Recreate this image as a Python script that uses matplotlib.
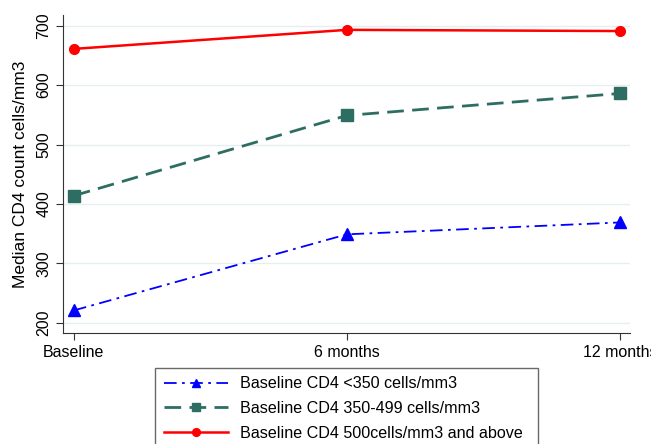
import matplotlib.pyplot as plt

plt.rcParams['font.family'] = ['Liberation Sans', 'DejaVu Sans']

timepoints = ['Baseline', '6 months', '12 months']
low_cd4 = [221, 349, 369]
mid_cd4 = [414, 549, 586]
high_cd4 = [661, 693, 691]
labels = ['Baseline CD4 <350 cells/mm3',
          'Baseline CD4 350-499 cells/mm3',
          'Baseline CD4 500cells/mm3 and above']
yticks = [200, 300, 400, 500, 600, 700]

fig = plt.figure(figsize=(6.51, 4.44), dpi=100)
ax = fig.add_axes([63/651, 1-333/444, (630-63)/651, (333-15)/444])

x = range(len(timepoints))
ax.plot(x, low_cd4, color='#0000ff', linestyle=(0, (7, 3, 1.5, 3)), lw=1.3,
        marker='^', markersize=8, label=labels[0])
ax.plot(x, mid_cd4, color='#2e6e62', linestyle=(0, (6, 3)), lw=2,
        marker='s', markersize=8, label=labels[1])
ax.plot(x, high_cd4, color='#ff0000', linestyle='-', lw=1.8,
        marker='o', markersize=7, label=labels[2])

ax.set_xlim(-0.04, 2.037)
ax.set_ylim(183, 718)
ax.set_yticks(yticks)
ax.set_yticklabels([str(v) for v in yticks], rotation=90, va='center')
ax.set_xticks(list(x))
ax.set_xticklabels(timepoints)
ax.tick_params(labelsize=11.5, length=5, color='#333333')
ax.set_ylabel('Median CD4 count cells/mm3', fontsize=12.5, labelpad=6)
ax.grid(axis='y', color='#e6eff0', lw=1)
ax.set_axisbelow(True)
for s in ['top', 'right']:
    ax.spines[s].set_visible(False)
for s in ['left', 'bottom']:
    ax.spines[s].set_color('#333333')

# legend box sits under the axes and runs off the bottom edge, as in the source
leg = fig.legend(loc='upper left',
                 bbox_to_anchor=(155/651, 1-372/444, (538-155)/651, 0.01),
                 mode='expand', fontsize=11.6, frameon=True, fancybox=False,
                 handlelength=4.0, handletextpad=0.7, borderpad=0.55,
                 labelspacing=0.6, borderaxespad=0, markerscale=0.8)
leg.get_frame().set_edgecolor('#444444')
leg.get_frame().set_linewidth(1)

fig.savefig('out.png', dpi=100)
